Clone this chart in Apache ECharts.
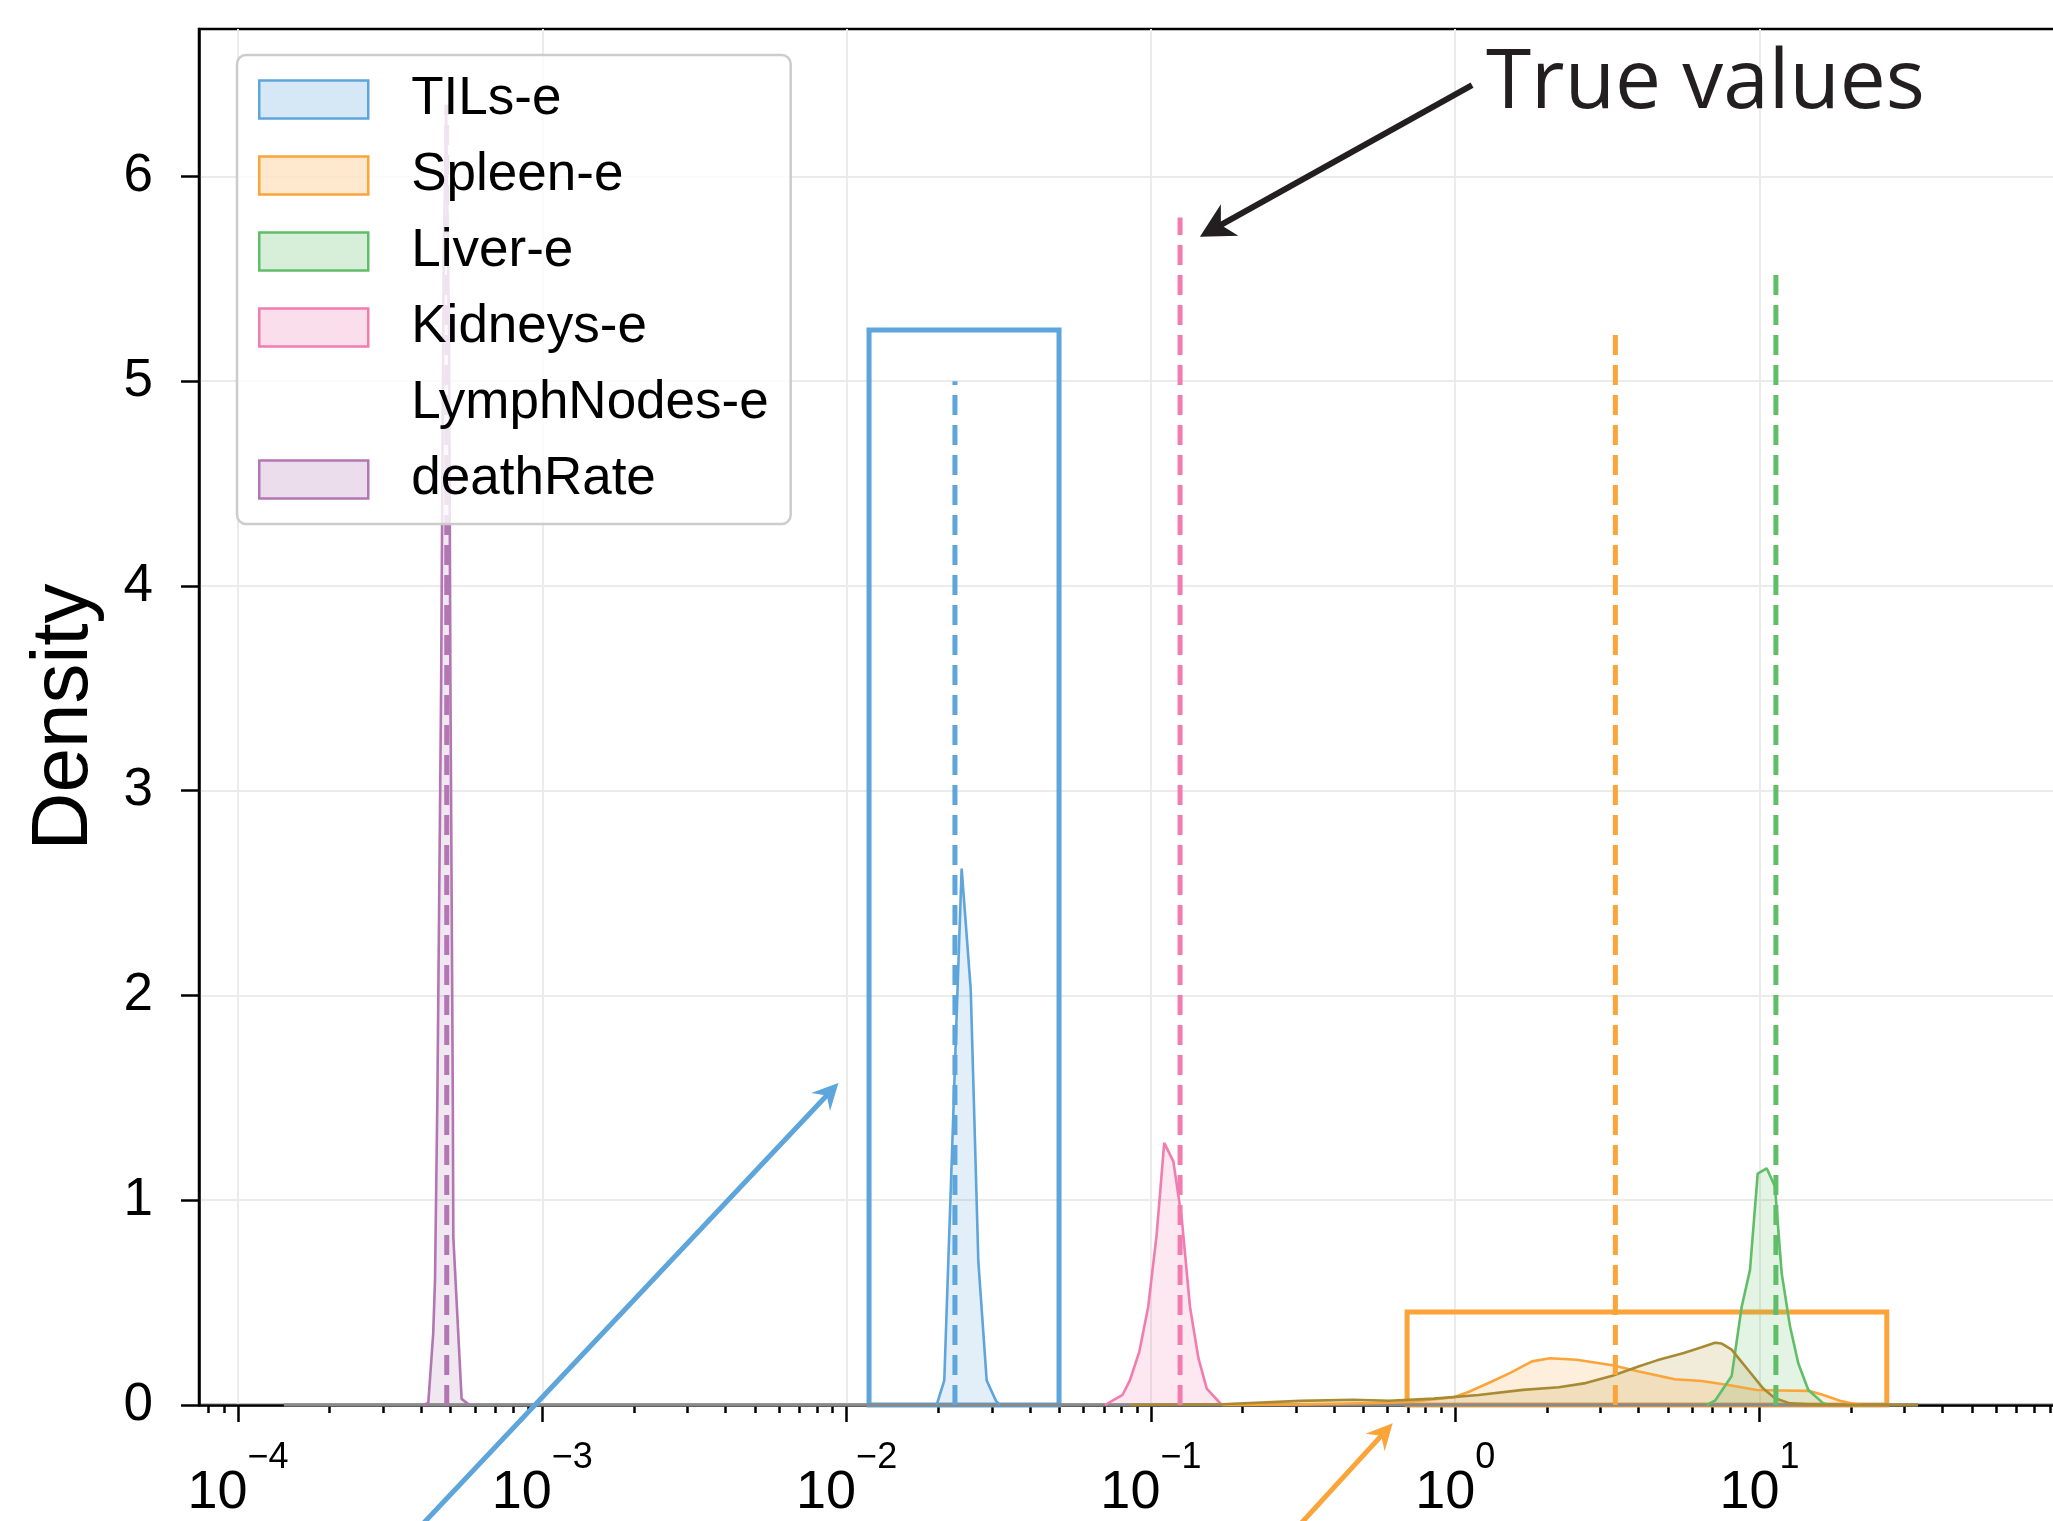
<!DOCTYPE html>
<html><head><meta charset="utf-8">
<script src="https://cdn.jsdelivr.net/npm/echarts@6/dist/echarts.min.js"></script>
<style>html,body{margin:0;padding:0;background:#fff}#c{width:2053px;height:1521px}</style>
</head><body><div id="c"></div>
<script>
// ---------- data ----------
const legendNames = ['TILs-e', 'Spleen-e', 'Liver-e', 'Kidneys-e', 'LymphNodes-e', 'deathRate'];

const tilsX = [0.01977, 0.02094, 0.02388, 0.02558, 0.02710, 0.02886, 0.03097, 0.03192];
const tilsY = [0, 0.12, 2.62, 2.03, 0.70, 0.12, 0.02, 0];

const spleenX = [0.171, 0.309, 0.606, 0.719, 0.991, 1.115, 1.320, 1.511, 1.788, 2.047, 2.507, 3.286, 4.018, 5.269, 6.454, 7.905, 9.790, 11.85, 14.51, 16.21, 18.38, 19.99, 21.73];
const spleenY = [0, 0.003, 0.011, 0.016, 0.038, 0.066, 0.115, 0.156, 0.213, 0.228, 0.221, 0.194, 0.164, 0.126, 0.117, 0.098, 0.073, 0.071, 0.069, 0.049, 0.021, 0.008, 0];

const liverX = [6.707, 7.142, 8.102, 8.740, 9.307, 9.865, 10.56, 11.24, 11.83, 12.60, 13.41, 14.47, 16.21, 17.0];
const liverY = [0, 0.021, 0.142, 0.48, 0.66, 1.13, 1.156, 1.067, 0.643, 0.383, 0.204, 0.073, 0.008, 0];

const kidneysX = [0.0706, 0.0807, 0.0853, 0.0916, 0.0980, 0.1044, 0.1106, 0.1185, 0.1263, 0.1344, 0.1432, 0.1526, 0.1710];
const kidneysY = [0, 0.05, 0.12, 0.26, 0.48, 0.83, 1.28, 1.19, 0.91, 0.48, 0.23, 0.08, 0];

const lymphX = [0.0854, 0.1713, 0.309, 0.4633, 0.6062, 0.851, 1.193, 1.670, 2.190, 2.683, 3.286, 4.022, 4.605, 5.640, 6.454, 7.142, 7.513, 8.102, 8.520, 9.307, 10.29, 11.24, 12.60, 14.99, 33.2];
const lymphY = [0, 0.004, 0.02, 0.026, 0.021, 0.031, 0.049, 0.074, 0.087, 0.107, 0.143, 0.189, 0.218, 0.254, 0.282, 0.304, 0.30, 0.27, 0.23, 0.16, 0.08, 0.033, 0.008, 0.002, 0];

const deathX = [4.06e-4, 4.22e-4, 4.38e-4, 4.44e-4, 4.52e-4, 4.65e-4, 4.74e-4, 4.83e-4, 4.94e-4, 4.99e-4, 5.08e-4, 5.10e-4, 5.43e-4, 5.76e-4];
const deathY = [0, 0.01, 0.35, 0.61, 1.5, 3.5, 5.6, 6.3, 5.2, 3.5, 1.5, 0.82, 0.03, 0];

const baselineX = [1.415e-4, 33.2];
const baselineY = [0, 0];

// true values (dashed lines): order TILs, Spleen, Liver, Kidneys, deathRate
const trueNames = ['TILs-e', 'Spleen-e', 'Liver-e', 'Kidneys-e', 'deathRate'];
const trueX = [0.0227, 3.36, 11.32, 0.1247, 4.852e-4];
const trueTop = [5.0, 5.26, 5.53, 5.80, 6.35];

const yTicks = [0, 1, 2, 3, 4, 5, 6];
const xMajorTicks = [1e-4, 1e-3, 1e-2, 1e-1, 1, 10];
const xMinorTicks = [];
for (let k = -5; k <= 1; k++) for (let m = 2; m <= 9; m++) xMinorTicks.push(m * Math.pow(10, k));

// annotations in data coordinates
const blueBox = [[0.01185, 0], [0.0499, 5.25]];
const orangeBox = [[0.695, 0], [26.2, 0.454]];
const blueArrow = [[3.13e-4, -0.757], [0.0094, 1.572]];
const orangeArrow = [[0.2417, -0.757], [0.623, -0.0894]];
const blackArrow = [[1.136, 6.446], [0.1449, 5.706]];
const trueLabelPos = [1.262, 6.45];
const trueLabelText = 'True values';

// ---------- styles ----------
const FONT = '"Liberation Sans", Arial, Helvetica, sans-serif';
const COL = {
  'TILs-e': '#5DA5DA', 'Spleen-e': '#FAA43A', 'Liver-e': '#60BD68',
  'Kidneys-e': '#F17CB0', 'LymphNodes-e': '#B2912F', 'deathRate': '#B276B2'
};
function rgba(hex, a) {
  const n = parseInt(hex.slice(1), 16);
  return 'rgba(' + (n >> 16) + ',' + ((n >> 8) & 255) + ',' + (n & 255) + ',' + a + ')';
}
const XMIN = Math.pow(10, -4.1282), XMAX = Math.pow(10, 1.9974);

function pairs(xs, ys) { return xs.map((x, i) => [x, ys[i]]); }
function density(name, xs, ys, extra) {
  const c = COL[name];
  return Object.assign({
    name, type: 'line', xAxisIndex: 0, yAxisIndex: 0, data: pairs(xs, ys),
    symbol: 'none', showSymbol: false, smooth: false, clip: false, silent: true,
    lineStyle: { color: name === 'LymphNodes-e' ? '#A88A33' : c, width: 2.6 },
    itemStyle: { color: c },
    areaStyle: { color: rgba(c, 0.25) },
    z: 2
  }, extra || {});
}

const series = [
  { name: 'baseline', type: 'line', data: pairs(baselineX, baselineY), symbol: 'none', silent: true,
    lineStyle: { color: '#8a8a8a', width: 3.5 }, z: 2 },
  density('TILs-e', tilsX, tilsY, {
    markArea: { silent: true, label: { show: false },
      itemStyle: { color: 'rgba(0,0,0,0)', borderColor: COL['TILs-e'], borderWidth: 5 },
      data: [[{ coord: blueBox[0] }, { coord: blueBox[1] }]] }
  }),
  density('Spleen-e', spleenX, spleenY, {
    markArea: { silent: true, label: { show: false },
      itemStyle: { color: 'rgba(0,0,0,0)', borderColor: COL['Spleen-e'], borderWidth: 5 },
      data: [[{ coord: orangeBox[0] }, { coord: orangeBox[1] }]] }
  }),
  density('Liver-e', liverX, liverY),
  density('Kidneys-e', kidneysX, kidneysY),
  density('LymphNodes-e', lymphX, lymphY),
  density('deathRate', deathX, deathY)
];
trueNames.forEach((n, i) => {
  series.push({
    name: n + ' true', type: 'line', data: [[trueX[i], 0], [trueX[i], trueTop[i]]],
    symbol: 'none', silent: true, clip: false,
    lineStyle: { color: COL[n], width: 5, type: [20, 10] }, z: 3
  });
});

const legendData = legendNames.map(n => n === 'LymphNodes-e'
  ? { name: n, icon: 'none' }
  : { name: n, icon: 'rect', itemStyle: { color: rgba(COL[n], 0.25), borderColor: COL[n], borderWidth: 2.5 } });

const axisLineStyle = { color: '#000', width: 2.5 };
const option = {
  animation: false,
  backgroundColor: '#fff',
  grid: { left: 199, top: 29, right: -10, bottom: 116, containLabel: false, outerBoundsMode: 'none',
    show: true, borderColor: '#000', borderWidth: 2.5, backgroundColor: 'rgba(0,0,0,0)' },
  legend: {
    orient: 'vertical', left: 237, top: 55, padding: [18, 22, 18, 21], itemGap: 23,
    itemWidth: 109, itemHeight: 38, selectedMode: false,
    backgroundColor: 'rgba(255,255,255,0.8)', borderColor: '#cccccc', borderWidth: 2.5, borderRadius: 9,
    textStyle: { fontFamily: FONT, fontSize: 53, color: '#000', lineHeight: 38, padding: [0, 0, 0, 38] },
    data: legendData
  },
  xAxis: [{
    type: 'log', logBase: 10, min: XMIN, max: XMAX, position: 'bottom',
    axisLine: { show: true, onZero: false, lineStyle: axisLineStyle },
    axisTick: { show: true, customValues: xMajorTicks, length: 17, lineStyle: axisLineStyle },
    minorTick: { show: false },
    axisLabel: {
      customValues: xMajorTicks, margin: 35, color: '#000',
      formatter: v => { const e = Math.round(Math.log10(v)); return '{b|10}{s|' + (e < 0 ? '\u2212' + (-e) : String(e)) + '}'; },
      rich: {
        b: { fontFamily: FONT, fontSize: 54, color: '#000', lineHeight: 80, verticalAlign: 'bottom' },
        s: { fontFamily: FONT, fontSize: 36, color: '#000', lineHeight: 20, verticalAlign: 'top' }
      }
    },
    splitLine: { show: true, lineStyle: { color: '#ebebeb', width: 2 } }
  }, {
    type: 'log', logBase: 10, min: XMIN, max: XMAX, position: 'bottom',
    axisLine: { show: false },
    axisTick: { show: true, customValues: xMinorTicks, length: 8, lineStyle: axisLineStyle },
    axisLabel: { show: false }, splitLine: { show: false }, minorTick: { show: false }
  }],
  yAxis: {
    type: 'value', min: 0, max: 6.72,
    axisLine: { show: true, onZero: false, lineStyle: axisLineStyle },
    axisTick: { show: true, customValues: yTicks, length: 18, lineStyle: axisLineStyle },
    axisLabel: { customValues: yTicks, fontFamily: FONT, fontSize: 53, color: '#000', margin: 46 },
    splitLine: { show: true, lineStyle: { color: '#ebebeb', width: 2 } },
    name: 'Density', nameLocation: 'middle', nameGap: 94,
    nameTextStyle: { fontFamily: FONT, fontSize: 80, color: '#000' }
  },
  series
};

const chart = echarts.init(document.getElementById('c'), null, { renderer: 'canvas', width: 2053, height: 1521 });
chart.setOption(option);

// ---------- annotations via the chart's own scales ----------
function px(p) { return chart.convertToPixel({ xAxisIndex: 0, yAxisIndex: 0 }, p); }
function arrow(a, color, width, headLen, headHalf, notch) {
  const t = px(a[0]), h = px(a[1]);
  const dx = h[0] - t[0], dy = h[1] - t[1], L = Math.hypot(dx, dy);
  const ux = dx / L, uy = dy / L, nx = -uy, ny = ux;
  const bx = h[0] - ux * headLen, by = h[1] - uy * headLen;
  const c1 = [bx + nx * headHalf, by + ny * headHalf], c2 = [bx - nx * headHalf, by - ny * headHalf];
  const nb = [h[0] - ux * notch, h[1] - uy * notch];
  return [
    { type: 'line', z: 10, silent: true, shape: { x1: t[0], y1: t[1], x2: nb[0] + ux * 2, y2: nb[1] + uy * 2 },
      style: { stroke: color, lineWidth: width } },
    { type: 'polygon', z: 10, silent: true, shape: { points: [h, c1, nb, c2] }, style: { fill: color } }
  ];
}
const lp = px(trueLabelPos);
const graphics = []
  .concat(arrow(blueArrow, COL['TILs-e'], 5, 26, 13, 17))
  .concat(arrow(orangeArrow, COL['Spleen-e'], 5, 26, 13, 17))
  .concat(arrow(blackArrow, '#231F20', 6, 34, 18, 24))
  .concat([{ type: 'text', z: 10, silent: true, x: lp[0], y: lp[1],
    style: { text: trueLabelText, fontFamily: '"Open Sans", sans-serif', fontSize: 82, fill: '#231F20',
      align: 'left', verticalAlign: 'middle' } }]);
chart.setOption({ graphic: graphics });
</script>
</body></html>
